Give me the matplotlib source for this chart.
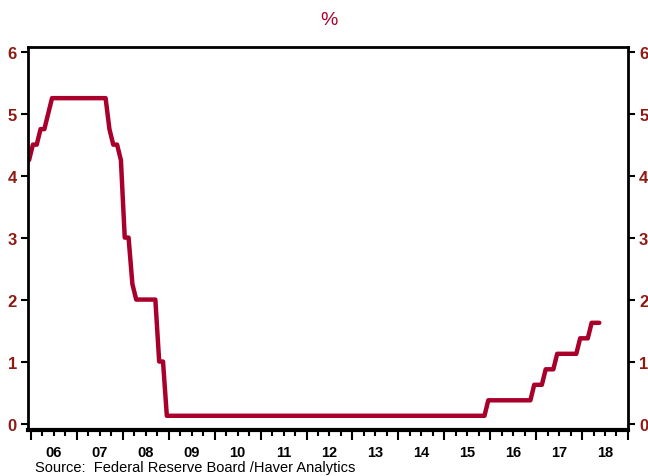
import matplotlib.pyplot as plt
import numpy as np

# Fed funds target (midpoint), month-end levels as (level, months held), from Dec 2005
levels = [4.25, 4.5, 4.75, 5.0, 5.25, 4.75, 4.5, 4.25, 3.0, 2.25, 2.0, 1.0,
          0.125, 0.375, 0.625, 0.875, 1.125, 1.375, 1.625]
months_held = [1, 2, 2, 1, 15, 1, 2, 1, 2, 1, 6, 2,
               84, 12, 3, 3, 6, 3, 3]
start_year = 2005 + 11 / 12  # Dec 2005

year_labels = ["06", "07", "08", "09", "10", "11", "12", "13", "14", "15", "16", "17", "18"]
y_ticks = [0, 1, 2, 3, 4, 5, 6]

line_color = "#A8002B"
label_color = "#8E1A12"
font = ["Liberation Sans", "DejaVu Sans"]

rate = np.repeat(levels, months_held)
t = start_year + (np.arange(len(rate)) + 0.5) / 12

fig = plt.figure(figsize=(6.48, 4.77), dpi=100)
ax = fig.add_axes([0.0432, 0.097, 0.9259, 0.8017])
ax.plot(t, rate, color=line_color, lw=3.2, solid_capstyle="round", solid_joinstyle="round")

ax.set_xlim(2005.935, 2019.0)
ax.set_ylim(-0.1, 6.07)

# year boundaries: long ticks; quarters: short ticks, labels at mid-year
years = np.arange(2006, 2020)
ax.set_xticks(years, labels=[])
quarters = [y + q / 4 for y in range(2006, 2019) for q in (1, 2, 3)]
ax.set_xticks(quarters, minor=True)
ax.tick_params(axis="x", which="major", direction="out", length=7, width=1.5,
               labelbottom=False)
ax.tick_params(axis="x", which="minor", direction="out", length=4, width=1.5,
               labelbottom=False)
for i, lab in enumerate(year_labels):
    ax.annotate(lab, xy=(2006.5 + i, 0), xycoords=("data", "axes fraction"),
                xytext=(0, -22), textcoords="offset pixels", ha="center", va="center",
                fontsize=10.5, fontweight="bold", family=font)

ax.set_yticks(y_ticks)
ax.tick_params(axis="y", which="major", direction="out", length=5, width=1.5,
               left=True, right=True, labelleft=True, labelright=True,
               labelcolor=label_color, labelsize=12, pad=3)
for tk in ax.yaxis.get_major_ticks():
    for lab in (tk.label1, tk.label2):
        lab.set_fontfamily(font)
        lab.set_fontweight("bold")
        lab.set_color(label_color)

for side in ["left", "right", "top"]:
    ax.spines[side].set_linewidth(2)
ax.spines["bottom"].set_linewidth(3)

fig.text(0.508, 0.957, "%", color=line_color, fontsize=14, ha="center", va="center",
         family=font)
fig.text(0.054, 0.011, "Source:  Federal Reserve Board /Haver Analytics", fontsize=10.5,
         ha="left", va="baseline", family=font)

fig.savefig("out.png", dpi=100)
